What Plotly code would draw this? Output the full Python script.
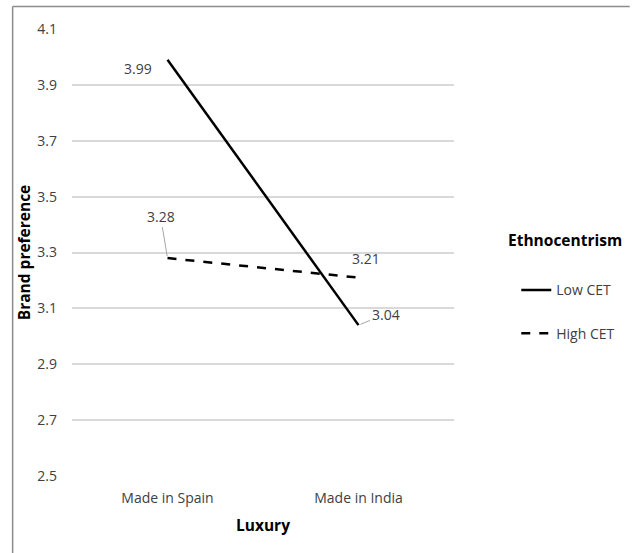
import plotly.graph_objects as go

categories = ["Made in Spain", "Made in India"]
low_cet = [3.99, 3.04]
high_cet = [3.28, 3.21]
series_names = ["Low CET", "High CET"]
legend_title = "Ethnocentrism"
y_ticks = [2.5, 2.7, 2.9, 3.1, 3.3, 3.5, 3.7, 3.9, 4.1]

FONT = "Open Sans"
TXT = "#404040"
fig = go.Figure()
fig.add_trace(go.Scatter(x=categories, y=low_cet, mode="lines", name=series_names[0],
                         legendgroup="a",
                         line=dict(color="black", width=2.5)))
fig.add_trace(go.Scatter(x=categories, y=high_cet, mode="lines", name=series_names[1],
                         legendgroup="b",
                         line=dict(color="black", width=2.5, dash="dash")))

# data labels (offsets in px relative to the data point)
label_offsets = {
    (0, 0): (-30, 9, False),
    (0, 1): (27, -11, True),
    (1, 0): (-7, -42, True),
    (1, 1): (7, -19, False),
}
for si, vals in enumerate([low_cet, high_cet]):
    for ci, v in enumerate(vals):
        ax, ay, arrow = label_offsets[(si, ci)]
        fig.add_annotation(x=categories[ci], y=v, text=f"{v:.2f}", ax=ax, ay=ay,
                           showarrow=True, arrowhead=0, arrowwidth=1,
                           arrowcolor="#a6a6a6" if arrow else "rgba(0,0,0,0)",
                           standoff=2, startstandoff=0,
                           font=dict(family=FONT, size=14, color=TXT))

# legend title
fig.add_annotation(xref="paper", yref="paper", x=1.290, y=0.528, text=f"<b>{legend_title}</b>",
                   showarrow=False, xanchor="center", yanchor="middle",
                   font=dict(family=FONT, size=15.5, color="black"))

# frame
fig.add_shape(type="line", xref="paper", yref="paper", x0=-0.1554, x1=-0.1554, y0=1.0503, y1=-0.2,
              line=dict(color="#8c8c8c", width=1.5))
fig.add_shape(type="line", xref="paper", yref="paper", x0=-0.1554, x1=1.46, y0=1.0503, y1=1.0503,
              line=dict(color="#8c8c8c", width=1.5))

fig.update_layout(
    width=632, height=553,
    margin=dict(l=72, r=174, t=29, b=77),
    paper_bgcolor="white", plot_bgcolor="white",
    font=dict(family=FONT, size=14, color=TXT),
    showlegend=True,
    legend=dict(x=1.163, y=0.451, xanchor="left", yanchor="top",
                tracegroupgap=22, font=dict(size=14, color=TXT),
                itemwidth=30),
    xaxis=dict(type="category", range=[-0.5, 1.5], showgrid=False, showline=False,
               ticks="", ticklabelstandoff=12, tickfont=dict(size=14, color=TXT),
               title=dict(text="<b>Luxury</b>", font=dict(size=15.5, color="black"), standoff=14)),
    yaxis=dict(range=[2.5, 4.1], tickvals=y_ticks, ticktext=[f"{t:.1f}" for t in y_ticks],
               showgrid=True, gridcolor="#d9d9d9", gridwidth=2, zeroline=False, showline=False,
               ticks="", ticklabelstandoff=14, tickfont=dict(size=14, color=TXT),
               title=dict(text="<b>Brand preference</b>", font=dict(size=15.5, color="black"), standoff=2)),
)

fig.write_html("out.html", config={"displayModeBar": False},
               post_script="document.body.style.margin='0';")
